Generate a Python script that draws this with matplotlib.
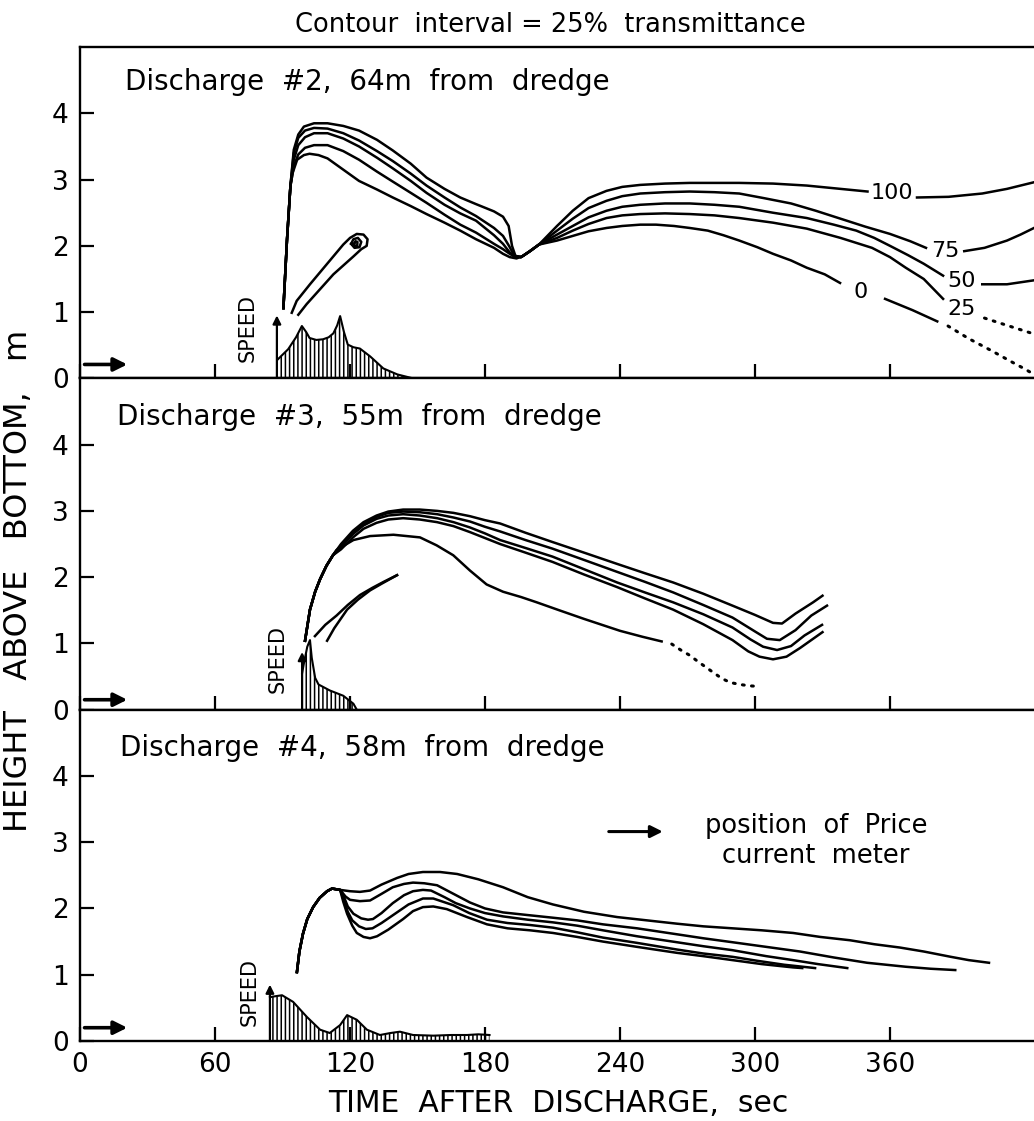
import matplotlib.pyplot as plt

plt.rcParams['font.family'] = ['DejaVu Sans']
plt.rcParams['hatch.linewidth'] = 1.1

# axes
x_ticks = [0, 60, 120, 180, 240, 300, 360]
y_ticks = [0, 1, 2, 3, 4]
panel_titles = ['Discharge  #2,  64m  from  dredge',
                'Discharge  #3,  55m  from  dredge',
                'Discharge  #4,  58m  from  dredge']
contour_levels = ['100', '75', '50', '25', '0']

# ---- Discharge #2 : contours of transmittance (time s, height m) ----
d2_rise = [(90.4, 1.06), (92, 2.1), (93.5, 2.9)]
d2_100 = d2_rise + [(95, 3.45), (97, 3.68), (99.5, 3.8), (104, 3.85), (110, 3.85), (117, 3.81), (124, 3.74),
                    (132, 3.6), (139, 3.44), (147, 3.24), (154, 3.03), (162, 2.86), (169, 2.73), (176, 2.63),
                    (184, 2.52), (188, 2.44), (190.5, 2.3), (192, 2.0), (193.5, 1.85), (196, 1.83), (200, 1.92),
                    (204, 2.02), (212, 2.3), (219, 2.53), (226, 2.72), (234, 2.83), (241, 2.89), (249, 2.92),
                    (260, 2.94), (271, 2.95), (293, 2.95), (308, 2.94), (323, 2.91), (338, 2.86), (350, 2.82)]
d2_100r = [(372, 2.73), (386, 2.74), (401, 2.79), (412, 2.86), (424, 2.96)]
d2_75 = d2_rise + [(95, 3.4), (97, 3.63), (100, 3.74), (104, 3.78), (110, 3.77), (117, 3.7), (124, 3.59),
                   (132, 3.43), (139, 3.28), (147, 3.09), (154, 2.91), (162, 2.73), (169, 2.58), (176, 2.45),
                   (184, 2.27), (188, 2.15), (191, 1.98), (193, 1.85), (196, 1.83), (200, 1.92), (204, 2.02),
                   (212, 2.23), (219, 2.41), (226, 2.57), (234, 2.68), (241, 2.75), (249, 2.79), (260, 2.81),
                   (271, 2.82), (282, 2.81), (293, 2.79), (304, 2.72), (316, 2.64), (327, 2.53), (338, 2.41),
                   (349, 2.29), (360, 2.18), (369, 2.07), (376, 1.97)]
d2_75r = [(393, 1.92), (402, 1.97), (412, 2.08), (418, 2.17), (424, 2.27)]
d2_50 = d2_rise + [(95, 3.3), (97, 3.52), (100, 3.64), (104, 3.7), (110, 3.7), (117, 3.62), (124, 3.5),
                   (132, 3.33), (139, 3.17), (147, 2.98), (154, 2.8), (162, 2.62), (169, 2.49), (176, 2.38),
                   (184, 2.16), (188, 2.03), (191, 1.9), (193, 1.84), (196, 1.83), (200, 1.92), (204, 2.02),
                   (212, 2.17), (219, 2.3), (226, 2.43), (234, 2.53), (241, 2.59), (249, 2.62), (260, 2.64),
                   (271, 2.64), (282, 2.62), (293, 2.59), (308, 2.5), (323, 2.42), (335, 2.32), (345, 2.23),
                   (353, 2.12), (360, 2.0), (368, 1.86), (375, 1.73), (383.6, 1.55)]
d2_50r = [(401, 1.42), (412, 1.42), (424, 1.48)]
d2_25 = d2_rise + [(95, 3.2), (97, 3.38), (100, 3.48), (104, 3.52), (110, 3.52), (117, 3.43), (124, 3.3),
                   (132, 3.12), (139, 2.97), (147, 2.8), (154, 2.65), (162, 2.47), (169, 2.32), (176, 2.2),
                   (184, 2.03), (188, 1.95), (191, 1.88), (193, 1.84), (196, 1.83), (200, 1.92), (204, 2.02),
                   (212, 2.12), (219, 2.23), (226, 2.33), (234, 2.42), (241, 2.46), (249, 2.48), (260, 2.49),
                   (271, 2.48), (282, 2.46), (293, 2.42), (308, 2.35), (323, 2.26), (338, 2.12), (352, 1.97),
                   (360, 1.83), (367, 1.67), (375, 1.5), (383.6, 1.2)]
d2_25dots = [(402, 0.91), (412, 0.8), (424, 0.67)]
d2_0 = d2_rise + [(94.5, 3.1), (96.5, 3.3), (99.5, 3.37), (102, 3.39), (106, 3.37), (110, 3.32), (117, 3.15),
                  (124, 2.98), (132, 2.85), (139, 2.73), (147, 2.6), (154, 2.48), (162, 2.35), (169, 2.23),
                  (176, 2.1), (184, 1.97), (188, 1.88), (191, 1.83), (194, 1.81), (197, 1.85), (204, 2.02),
                  (212, 2.08), (219, 2.15), (226, 2.22), (234, 2.27), (241, 2.3), (249, 2.32), (256, 2.32),
                  (264, 2.3), (271, 2.27), (279, 2.23), (286, 2.16), (293, 2.08), (301, 1.98), (308, 1.88),
                  (316, 1.78), (323, 1.67), (331, 1.57), (337.8, 1.44)]
d2_0r = [(357.8, 1.2), (370, 1.03), (381, 0.86)]
d2_0dots = [(385.8, 0.79), (395, 0.6), (405, 0.42), (414, 0.25), (420, 0.14), (424, 0.06)]
d2_eddy = [(94.1, 0.99), (96.3, 1.17), (102.2, 1.42), (109.6, 1.72), (117, 2.02), (120, 2.12), (123, 2.18),
           (126, 2.17), (127.8, 2.1), (127.4, 2.0), (125, 1.95), (121.5, 1.84), (112.6, 1.57), (105.2, 1.29),
           (100.7, 1.12), (97, 0.96)]
d2_eddy_in = [(120.5, 2.03), (121.5, 2.1), (123.5, 2.12), (125, 2.06), (124.2, 1.98), (122, 1.97), (120.5, 2.03)]
d2_eddy_core = [(121.8, 2.03), (122.4, 2.07), (123.3, 2.06), (123.2, 2.0), (122.2, 1.99), (121.8, 2.03)]
d2_speed = [(88, 0.29), (92.5, 0.44), (96, 0.62), (98.6, 0.79), (100.5, 0.7), (102, 0.61), (105, 0.58),
            (108, 0.59), (110.5, 0.62), (112.6, 0.68), (114.3, 0.8), (115.6, 0.94), (117.3, 0.7), (119, 0.51),
            (121.5, 0.47), (124.4, 0.45), (129, 0.33), (134.8, 0.15), (141, 0.06), (148, 0.0)]

# ---- Discharge #3 ----
d3_rise = [(100, 1.04), (102.2, 1.51), (104.5, 1.78), (106.7, 1.97), (109.5, 2.17), (112.4, 2.33)]
d3_100 = d3_rise + [(116, 2.5), (121.3, 2.7), (126, 2.83), (131.8, 2.93), (137, 2.99), (143.6, 3.02), (151, 3.02),
                    (158.7, 3.0), (166, 2.97), (173.3, 2.92), (180, 2.86), (186.7, 2.81), (198, 2.67), (210, 2.53),
                    (224, 2.37), (238.7, 2.2), (251, 2.06), (263.6, 1.92), (277, 1.75), (290, 1.57), (300, 1.43),
                    (308, 1.31), (312, 1.3), (318, 1.45), (325.8, 1.62), (330, 1.72)]
d3_75 = d3_rise + [(116, 2.48), (121.3, 2.68), (126, 2.81), (131.8, 2.91), (137, 2.97), (143.6, 2.99), (151, 2.98),
                   (158.7, 2.95), (166, 2.9), (173.3, 2.84), (180, 2.76), (186.7, 2.69), (198, 2.56), (210, 2.43),
                   (224, 2.26), (238.7, 2.08), (251, 1.93), (263.6, 1.77), (277, 1.58), (290, 1.39), (300, 1.18),
                   (305.3, 1.07), (311, 1.05), (318, 1.2), (325, 1.42), (332, 1.57)]
d3_50 = d3_rise + [(116, 2.46), (121.3, 2.65), (126, 2.78), (131.8, 2.88), (137, 2.93), (143.6, 2.95), (151, 2.93),
                   (158.7, 2.89), (166, 2.83), (173.3, 2.75), (180, 2.66), (186.7, 2.56), (198, 2.44), (210, 2.31),
                   (224, 2.12), (238.7, 1.92), (251, 1.77), (263.6, 1.62), (277, 1.44), (290, 1.24), (298, 1.06),
                   (303.6, 0.95), (309.8, 0.9), (316, 0.96), (322, 1.12), (329.8, 1.28)]
d3_25 = d3_rise + [(116, 2.42), (121.3, 2.6), (126, 2.73), (131.8, 2.82), (137, 2.87), (143.6, 2.89), (151, 2.87),
                   (158.7, 2.83), (166, 2.77), (173.3, 2.68), (180, 2.59), (186.7, 2.5), (198, 2.37), (210, 2.23),
                   (224, 2.04), (238.7, 1.85), (251, 1.68), (263.6, 1.51), (277, 1.29), (290, 1.05), (297, 0.88),
                   (302, 0.8), (308, 0.76), (314, 0.8), (320, 0.93), (330, 1.17)]
d3_0 = d3_rise + [(114, 2.41), (121.5, 2.56), (128.9, 2.62), (139.3, 2.64), (151.1, 2.6), (158.5, 2.48),
                  (165.9, 2.33), (173.3, 2.1), (180.7, 1.89), (188, 1.78), (196, 1.7), (203, 1.62), (213, 1.5),
                  (224, 1.37), (240, 1.19), (250, 1.1), (258.5, 1.03)]
d3_0dots = [(263, 0.99), (267, 0.9), (271, 0.82), (274.5, 0.73), (277.8, 0.65), (281.5, 0.56), (285.3, 0.47),
            (289, 0.41), (293.3, 0.38), (297.5, 0.36), (302, 0.35)]
d3_arm_a = [(104.4, 1.11), (109, 1.28), (114, 1.42), (119, 1.58), (124.4, 1.73), (130, 1.84), (135, 1.93),
            (140.9, 2.03)]
d3_arm_b = [(109.8, 1.04), (113, 1.23), (118.7, 1.51), (123.5, 1.66), (128.9, 1.8), (134, 1.9), (140.9, 2.03)]
d3_speed = [(98.7, 0.55), (99.5, 0.7), (101, 0.95), (102.2, 1.05), (103, 0.78), (104.5, 0.48), (106, 0.38),
            (111, 0.29), (117, 0.21), (121.5, 0.09), (123, 0.0)]

# ---- Discharge #4 ----
d4_rise = [(96.4, 1.04), (97.5, 1.35), (99.1, 1.62), (101, 1.84), (103.6, 2.02), (106.5, 2.16), (109.8, 2.26),
           (112, 2.3), (115.6, 2.28)]
d4_100 = d4_rise + [(120, 2.26), (124.4, 2.25), (128.9, 2.27), (134, 2.36), (140.9, 2.46), (146, 2.52),
                    (152.4, 2.55), (160, 2.55), (167.6, 2.52), (177, 2.44), (188, 2.32), (199, 2.17), (210.2, 2.06),
                    (224, 1.95), (238.7, 1.87), (252, 1.82), (265.3, 1.77), (277, 1.73), (290, 1.7), (303, 1.67),
                    (316.9, 1.63), (329, 1.57), (342.2, 1.52), (353, 1.46), (364.4, 1.41), (375, 1.35),
                    (387, 1.27), (395, 1.22), (404, 1.18)]
d4_75 = d4_rise + [(118, 2.18), (120, 2.13), (124.4, 2.11), (128.9, 2.12), (134, 2.22), (139, 2.32), (144, 2.37),
                   (148, 2.39), (153, 2.38), (158.7, 2.35), (166, 2.22), (173.3, 2.09), (180, 2.0), (188, 1.94),
                   (199, 1.9), (210.2, 1.86), (221, 1.82), (232.4, 1.76), (247.6, 1.7), (265.3, 1.61),
                   (277, 1.55), (290, 1.49), (305, 1.42), (320, 1.35), (335, 1.26), (349.8, 1.18), (367, 1.12),
                   (378, 1.09), (389, 1.07)]
d4_50 = d4_rise + [(117, 2.2), (119, 2.03), (121.5, 1.92), (125, 1.85), (128, 1.83), (130.2, 1.84), (134, 1.93),
                   (139, 2.08), (144, 2.2), (148, 2.26), (152.4, 2.28), (156, 2.27), (162, 2.17), (167, 2.08),
                   (173.3, 2.0), (180, 1.93), (188, 1.88), (199, 1.83), (210.2, 1.79), (221, 1.74), (232.4, 1.67),
                   (247.6, 1.58), (265.3, 1.49), (277, 1.43), (290, 1.37), (305, 1.28), (316.9, 1.22),
                   (328, 1.16), (341, 1.1)]
d4_25 = d4_rise + [(117, 2.15), (119, 1.95), (121, 1.82), (124, 1.73), (127, 1.69), (130, 1.7), (134, 1.78),
                   (140, 1.92), (146, 2.06), (152.4, 2.15), (157, 2.15), (165.8, 2.05), (173, 1.93), (180.9, 1.83),
                   (190, 1.78), (200, 1.75), (210.2, 1.71), (221, 1.64), (232.4, 1.56), (247.6, 1.48),
                   (265.3, 1.38), (277, 1.32), (290, 1.27), (301, 1.21), (313, 1.15), (326.7, 1.1)]
d4_0 = d4_rise + [(117, 2.1), (118.7, 1.92), (121, 1.74), (123, 1.63), (126, 1.57), (128.9, 1.55), (132, 1.58),
                  (137, 1.68), (143.6, 1.84), (148, 1.96), (152.4, 2.02), (157, 2.03), (163, 1.99), (172, 1.87),
                  (180.9, 1.76), (190, 1.7), (200, 1.67), (210.2, 1.63), (221, 1.57), (232.4, 1.5), (247.6, 1.42),
                  (265.3, 1.33), (277, 1.28), (290, 1.22), (303, 1.16), (316.9, 1.11), (321, 1.1)]
d4_speed = [(84.4, 0.66), (85.8, 0.67), (89.8, 0.69), (94.7, 0.59), (100.9, 0.36), (106.7, 0.17), (111, 0.12),
            (115.6, 0.24), (118.7, 0.39), (123, 0.32), (127.5, 0.17), (133.3, 0.09), (138, 0.12), (142.2, 0.14),
            (148, 0.09), (157, 0.08), (165, 0.09), (172, 0.09), (177, 0.1), (182, 0.09)]

# speed arrow (time, top) and meter arrow height per panel
speed_arrow_t = [87.5, 98.7, 84.4]
speed_arrow_top = [0.95, 0.87, 0.85]
meter_height = [0.21, 0.15, 0.2]


def xy(pts):
    return [p[0] for p in pts], [p[1] for p in pts]


def curve(ax, pts, dotted=False):
    t, h = xy(pts)
    if dotted:
        ax.plot(t, h, color='k', lw=2.2, linestyle=(0, (0.6, 2.4)), solid_capstyle='round',
                dash_capstyle='round')
    else:
        ax.plot(t, h, color='k', lw=1.8, solid_joinstyle='round')


def speed(ax, pts):
    t, v = xy(pts)
    ax.fill_between(t, 0, v, facecolor='none', edgecolor='k', hatch='||||', lw=0)
    ax.plot(t, v, color='k', lw=1.5)


fig, axes = plt.subplots(3, 1, figsize=(10.34, 11.21), dpi=100, sharex=True,
                         gridspec_kw=dict(hspace=0))
fig.subplots_adjust(left=0.0774, right=1.0, top=0.958, bottom=0.0714)

panels = [
    [d2_100, d2_100r, d2_75, d2_75r, d2_50, d2_50r, d2_25, d2_0, d2_0r, d2_eddy, d2_eddy_in, d2_eddy_core],
    [d3_100, d3_75, d3_50, d3_25, d3_0, d3_arm_a, d3_arm_b],
    [d4_100, d4_75, d4_50, d4_25, d4_0],
]
dots = [[d2_25dots, d2_0dots], [d3_0dots], []]
speeds = [d2_speed, d3_speed, d4_speed]
title_pos = [(20, 4.47), (16.5, 4.42), (17.8, 4.42)]
speed_lbl_pos = [(74.5, 0.76), (88, 0.77), (75.5, 0.74)]

for i, ax in enumerate(axes):
    for pts in panels[i]:
        curve(ax, pts)
    for pts in dots[i]:
        curve(ax, pts, dotted=True)
    speed(ax, speeds[i])
    ax.annotate('', xy=(speed_arrow_t[i], speed_arrow_top[i]), xytext=(speed_arrow_t[i], 0),
                arrowprops=dict(arrowstyle='-|>', color='k', lw=1.6, mutation_scale=12,
                                shrinkA=0, shrinkB=0))
    ax.text(*speed_lbl_pos[i], 'SPEED', rotation=90, ha='center', va='center', fontsize=15)
    ax.annotate('', xy=(21, meter_height[i]), xytext=(2, meter_height[i]),
                arrowprops=dict(arrowstyle='-|>', color='k', lw=2.6, mutation_scale=20,
                                shrinkA=0, shrinkB=0))
    ax.text(*title_pos[i], panel_titles[i], ha='left', va='center', fontsize=20)

    ax.set_xlim(0, 424)
    ax.set_ylim(0, 5)
    ax.set_xticks(x_ticks)
    ax.set_yticks(y_ticks)
    ax.tick_params(direction='in', length=10, width=1.6, labelsize=19, pad=8)
    ax.spines['right'].set_visible(False)
    for s in ['left', 'top', 'bottom']:
        ax.spines[s].set_linewidth(1.7)

# contour labels, discharge #2
lbl_pos = [(361, 2.8), (384.5, 1.92), (392, 1.47), (392, 1.05), (347, 1.3)]
for lvl, (t, h) in zip(contour_levels, lbl_pos):
    axes[0].text(t, h, lvl, ha='center', va='center', fontsize=16)

# legend note, discharge #4
axes[2].annotate('', xy=(259, 3.16), xytext=(235, 3.16),
                 arrowprops=dict(arrowstyle='-|>', color='k', lw=2.2, mutation_scale=18,
                                 shrinkA=0, shrinkB=0))
axes[2].text(327, 3.02, 'position  of  Price\ncurrent  meter', ha='center', va='center',
             multialignment='center', fontsize=18.5, linespacing=1.2)

fig.text(0.532, 0.978, 'Contour  interval = 25%  transmittance', ha='center', va='center', fontsize=18.5)
fig.text(0.54, 0.016, 'TIME  AFTER  DISCHARGE,  sec', ha='center', va='center', fontsize=21.5)
fig.text(0.018, 0.482, 'HEIGHT   ABOVE   BOTTOM,   m', ha='center', va='center', rotation=90, fontsize=23)

fig.savefig('out.png', dpi=100)
